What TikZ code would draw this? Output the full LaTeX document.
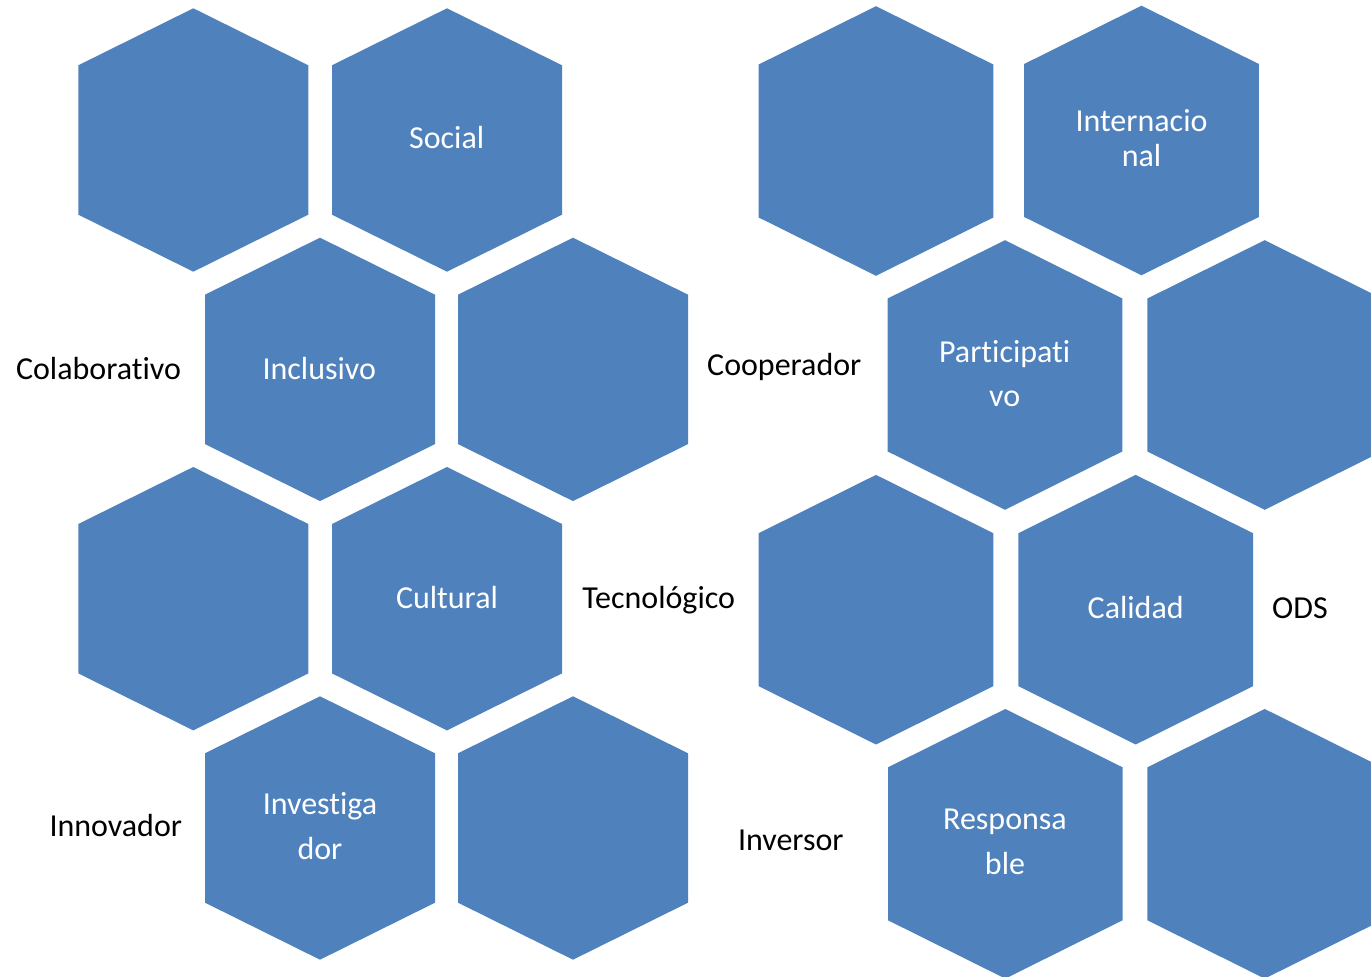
\documentclass[tikz,border=0pt]{standalone}
\usepackage{fontspec}
\setmainfont{Carlito}[Ligatures=NoCommon]
\definecolor{cellblue}{HTML}{4F81BD}
\tikzset{
  cell/.style={fill=cellblue},
  cellword/.style={text=white,align=center,anchor=base,inner sep=0pt,
    font=\fontsize{16pt}{22.5pt}\selectfont},
  sideword/.style={text=black,anchor=base,inner sep=0pt,
    font=\fontsize{16pt}{19pt}\selectfont}
}

\begin{document}
\begin{tikzpicture}[x=0.5pt,y=-0.5pt]
    \useasboundingbox (0,0) rectangle (1371,977);
    \clip (0,0) rectangle (1371,977);

    % — Left cluster (cells 230 wide)
    \foreach \name/\cx/\cy in {l11/193.3/140, l12/447/140,
        l21/320/369.4, l22/573/369.4, l31/193.3/598.7, l32/447/598.7,
        l41/320/828, l42/573/828}{
      \fill[cell] (\cx-115,\cy-74.7) -- (\cx,\cy-131.7) -- (\cx+115,\cy-74.7)
        -- (\cx+115,\cy+74.7) -- (\cx,\cy+131.7) -- (\cx-115,\cy+74.7) -- cycle;
      \coordinate (\name) at (\cx,\cy);
    }

    % — Right cluster (cells a bit larger)
    \foreach \name/\cx/\cy in {r11/876/141, r12/1141.5/140.5,
        r21/1005/375, r22/1264.7/375, r31/876/609.7, r32/1135.7/609.7,
        r41/1005.3/843.8, r42/1264.7/843.8}{
      \fill[cell] (\cx-117.3,\cy-76.5) -- (\cx,\cy-134.8) -- (\cx+117.3,\cy-76.5)
        -- (\cx+117.3,\cy+76.5) -- (\cx,\cy+134.8) -- (\cx-117.3,\cy+76.5) -- cycle;
      \coordinate (\name) at (\cx,\cy);
    }

    % — Words inside the cells (base = last line)
    \node[cellword] (social)        at (446.7,148.8) {Social};
    \node[cellword] (inclusivo)     at (319.3,379.5) {Inclusivo};
    \node[cellword] (cultural)      at (447,608.2)   {Cultural};
    \node[cellword] (investigador)  at (320,860)     {Investiga\\dor};
    \node[cellword,font=\fontsize{16pt}{17.5pt}\selectfont]
                    (internacional) at (1141.5,166.7) {Internacio\\nal};
    \node[cellword,font=\fontsize{16pt}{22pt}\selectfont]
                    (participativo) at (1004.7,406.7) {Participati\\vo};
    \node[cellword] (calidad)       at (1135.7,618.2) {Calidad};
    \node[cellword] (responsable)   at (1005,875)     {Responsa\\ble};

    % — Words beside the cells
    \node[sideword] (colaborativo) at (98.5,379.5)  {Colaborativo};
    \node[sideword] (innovador)    at (115.8,837)   {Innovador};
    \node[sideword] (tecnologico)  at (658.7,608.2) {Tecnológico};
    \node[sideword] (cooperador)   at (784.3,375.5) {Cooperador};
    \node[sideword] (inversor)     at (790.8,850.3) {Inversor};
    \node[sideword] (ods)          at (1300,618.2)  {ODS};
\end{tikzpicture}
\end{document}
